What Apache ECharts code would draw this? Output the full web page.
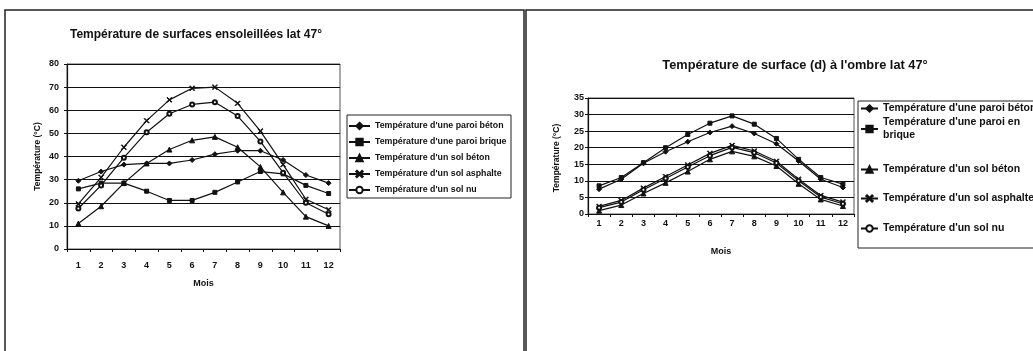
<!DOCTYPE html>
<html>
<head>
<meta charset="utf-8">
<script src="https://cdn.jsdelivr.net/npm/echarts/dist/echarts.min.js"></script>
<style>
html,body{margin:0;padding:0;background:#fff;}
#c{width:1033px;height:351px;}
</style>
</head>
<body>
<div id="c"></div>
<script>
// ---------- data ----------
const months = ['1','2','3','4','5','6','7','8','9','10','11','12'];

const leftTitle = 'Température de surfaces ensoleillées lat 47°';
const rightTitle = "Température de surface (d) à l'ombre lat 47°";
const yName = 'Température (°C)';
const xName = 'Mois';

const leftNames = [
  "Température d'une paroi béton",
  "Température d'une paroi brique",
  "Température d'un sol béton",
  "Température d'un sol asphalte",
  "Température d'un sol nu"
];
const rightNames = [
  "Température d'une paroi béton",
  "Température d'une paroi en brique",
  "Température d'un sol béton",
  "Température d'un sol asphalte",
  "Température d'un sol nu"
];

// Sunny surfaces (left chart)
const sunParoiBeton  = [29.5, 33.5, 36.5, 37, 37, 38.5, 41, 42.5, 42.5, 38.5, 32, 28.5];
const sunParoiBrique = [26, 28.5, 28.5, 25, 21, 21, 24.5, 29, 33.5, 32.5, 27.5, 24];
const sunSolBeton    = [11, 18.5, 28.5, 37, 43, 47, 48.5, 44, 35.5, 24.5, 14, 10];
const sunAsphalte    = [19.5, 31, 44, 55.5, 64.5, 69.5, 70, 63, 51, 36.5, 21.5, 17];
const sunSolNu       = [17.5, 27.5, 39.5, 50.5, 58.5, 62.5, 63.5, 57.5, 46.5, 33, 20, 15];

// Shaded surfaces (right chart)
const shadeParoiBeton  = [7.5, 10.5, 15.3, 18.8, 21.8, 24.6, 26.5, 24.3, 21.2, 16, 10.5, 8];
const shadeParoiBrique = [8.5, 11, 15.5, 20, 24, 27.4, 29.6, 27.1, 22.8, 16.5, 11, 9];
const shadeSolBeton    = [1, 2.7, 6.2, 9.4, 12.8, 16.5, 18.9, 17.4, 14.5, 9.1, 4.4, 2.4];
const shadeAsphalte    = [2.3, 4.1, 7.8, 11.3, 14.8, 18.3, 20.7, 19, 15.9, 10.5, 5.6, 3.6];
const shadeSolNu       = [1.9, 3.6, 7.3, 10.7, 14.2, 17.6, 20.1, 18.5, 15.4, 10, 5.1, 3.1];

// ---------- styling ----------
const FONT = "'Liberation Sans', Arial, sans-serif";
const INK = '#111';
const symbols = [
  {symbol: 'diamond', size: 5},
  {symbol: 'rect', size: 4},
  {symbol: 'triangle', size: 5},
  {symbol: 'path://M1,0L5,4L9,0L10,1L6,5L10,9L9,10L5,6L1,10L0,9L4,5L0,1Z', size: 5},
  {symbol: 'emptyCircle', size: 4}
];

function makeSeries(names, datas, axisIndex) {
  return datas.map((d, i) => ({
    name: names[i],
    type: 'line',
    xAxisIndex: axisIndex,
    yAxisIndex: axisIndex,
    data: d,
    symbol: symbols[i].symbol,
    symbolSize: symbols[i].size,
    showAllSymbol: true,
    lineStyle: {color: INK, width: 1.2},
    itemStyle: {color: INK, borderColor: INK, borderWidth: 1},
    emphasis: {disabled: true},
    animation: false
  }));
}

const labelStyle = {fontFamily: FONT, fontWeight: 'bold', color: INK, fontSize: 9};

function xAxis(gridIndex, labelMargin, nameGap) {
  return {
    type: 'category', gridIndex, data: months, boundaryGap: true,
    axisLine: {show: true, lineStyle: {color: INK, width: 1.2}},
    axisTick: {show: true, length: 3, alignWithLabel: false, lineStyle: {color: INK}},
    axisLabel: Object.assign({margin: labelMargin, interval: 0}, labelStyle),
    name: xName, nameLocation: 'middle', nameGap,
    nameTextStyle: Object.assign({}, labelStyle)
  };
}
function yAxis(gridIndex, max, interval, labelMargin, name, nameGap) {
  return {
    type: 'value', gridIndex, min: 0, max, interval,
    axisLine: {show: true, lineStyle: {color: INK, width: 1.2}},
    axisTick: {show: true, length: 3, lineStyle: {color: INK}},
    axisLabel: Object.assign({margin: labelMargin}, labelStyle),
    splitLine: {show: true, lineStyle: {color: INK, width: 1}},
    name, nameLocation: 'middle', nameGap, nameRotate: 90,
    nameTextStyle: Object.assign({}, labelStyle, {fontSize: 8.5})
  };
}

const rightLegendTops = [102, 116, 163, 192, 222];

const option = {
  backgroundColor: '#fff',
  animation: false,
  title: [
    {text: leftTitle, left: 196, top: 29, textAlign: 'center', padding: 0,
     textStyle: {fontFamily: FONT, fontWeight: 'bold', fontSize: 12, color: INK}},
    {text: rightTitle, left: 795, top: 59, textAlign: 'center', padding: 0,
     textStyle: {fontFamily: FONT, fontWeight: 'bold', fontSize: 12.8, color: INK}}
  ],
  grid: [
    {left: 67, top: 64, width: 273, height: 185, show: true, borderColor: '#555', borderWidth: 1},
    {left: 588, top: 98, width: 266, height: 116, show: true, borderColor: '#555', borderWidth: 1}
  ],
  xAxis: [xAxis(0, 12, 30), xAxis(1, 5, 33)],
  yAxis: [
    yAxis(0, 80, 10, 8, yName, 25),
    yAxis(1, 35, 5, 4, '', 0)
  ],
  legend: [
    {
      data: leftNames, orient: 'vertical', left: 348, top: 121, padding: 0,
      itemWidth: 21, itemHeight: 8, itemGap: 6,
      textStyle: {fontFamily: FONT, fontWeight: 'bold', fontSize: 8.8, color: INK, lineHeight: 10},
      selectedMode: false
    }
  ].concat(rightNames.map((n, i) => ({
      data: [n], orient: 'vertical', left: 860, top: rightLegendTops[i], padding: 0,
      itemWidth: 17, itemHeight: 8,
      formatter: name => name === rightNames[1] ? "Température d'une paroi en\nbrique" : name,
      textStyle: {fontFamily: FONT, fontWeight: 'bold', fontSize: 10.5, color: INK, lineHeight: 13},
      selectedMode: false
  }))),
  graphic: [
    {type: 'rect', silent: true, shape: {x: 5, y: 10, width: 519, height: 360},
     style: {fill: 'none', stroke: '#222', lineWidth: 1.5}, z: -10},
    {type: 'rect', silent: true, shape: {x: 526, y: 10, width: 520, height: 360},
     style: {fill: 'none', stroke: '#222', lineWidth: 1.5}, z: -10},
    {type: 'rect', silent: true, shape: {x: 347, y: 115, width: 164, height: 83},
     style: {fill: 'none', stroke: '#222', lineWidth: 1}, z: -5},
    {type: 'rect', silent: true, shape: {x: 858, y: 101, width: 190, height: 147},
     style: {fill: 'none', stroke: '#222', lineWidth: 1}, z: -5},
    {type: 'text', silent: true, x: 557, y: 158, rotation: Math.PI / 2,
     style: {text: yName, fontFamily: FONT, fontWeight: 'bold', fontSize: 8.5, fill: INK,
             align: 'center', verticalAlign: 'middle'}}
  ],
  series: makeSeries(leftNames, [sunParoiBeton, sunParoiBrique, sunSolBeton, sunAsphalte, sunSolNu], 0)
    .concat(makeSeries(rightNames, [shadeParoiBeton, shadeParoiBrique, shadeSolBeton, shadeAsphalte, shadeSolNu], 1))
};

const chart = echarts.init(document.getElementById('c'), null, {renderer: 'canvas'});
chart.setOption(option);
</script>
</body>
</html>
